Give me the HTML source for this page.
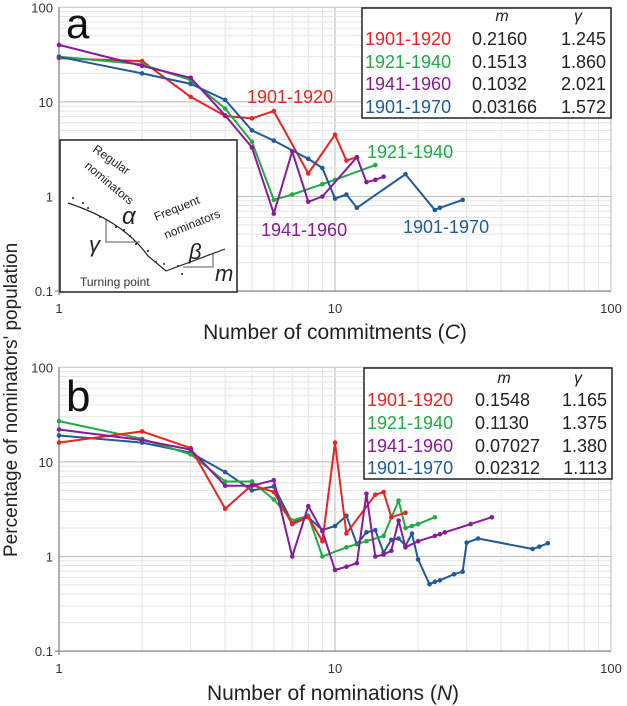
<!DOCTYPE html>
<html><head><meta charset="utf-8">
<style>
html,body{margin:0;padding:0;background:#fff;}
svg{display:block;font-family:"Liberation Sans","DejaVu Sans",sans-serif;}
</style></head>
<body>
<svg id="chart" width="627" height="706" viewBox="0 0 627 706" xmlns="http://www.w3.org/2000/svg">
  <g id="gridA"></g>
  <g id="gridB"></g>
  <g id="seriesA"></g>
  <g id="seriesB"></g>

  <text x="66" y="38" font-size="42" fill="#111">a</text>
  <text x="66" y="411" font-size="44" fill="#111">b</text>

  <text x="335" y="339" font-size="21" text-anchor="middle" fill="#222">Number of commitments (<tspan font-style="italic">C</tspan>)</text>
  <text x="333" y="700" font-size="21" text-anchor="middle" fill="#222">Number of nominations (<tspan font-style="italic">N</tspan>)</text>
  <text transform="translate(17,557) rotate(-90)" font-size="19" text-anchor="start" fill="#222">Percentage of nominators' population</text>

  <!-- series annotations panel a -->
  <text x="247" y="103" font-size="18" fill="#ee2222">1901-1920</text>
  <text x="367" y="158" font-size="18" fill="#22aa44">1921-1940</text>
  <text x="261" y="236" font-size="18" fill="#8a1a9a">1941-1960</text>
  <text x="403" y="233" font-size="18" fill="#1f5a9a">1901-1970</text>

  <!-- legend a -->
  <g>
    <rect x="362" y="8" width="249" height="110" fill="#fff" stroke="#222" stroke-width="1.5"/>
    <text x="502" y="21" font-size="16" font-style="italic" text-anchor="middle" fill="#222">m</text>
    <text x="578" y="21" font-size="16" font-style="italic" text-anchor="middle" fill="#222">γ</text>
    <g font-size="18">
      <text x="365" y="45" fill="#ee2222">1901-1920</text>
      <text x="472" y="45" fill="#222">0.2160</text><text x="606" y="45" text-anchor="end" fill="#222">1.245</text>
      <text x="365" y="68" fill="#22aa44">1921-1940</text>
      <text x="472" y="68" fill="#222">0.1513</text><text x="606" y="68" text-anchor="end" fill="#222">1.860</text>
      <text x="365" y="90" fill="#8a1a9a">1941-1960</text>
      <text x="472" y="90" fill="#222">0.1032</text><text x="606" y="90" text-anchor="end" fill="#222">2.021</text>
      <text x="365" y="113" fill="#1f5a9a">1901-1970</text>
      <text x="472" y="113" fill="#222">0.03166</text><text x="606" y="113" text-anchor="end" fill="#222">1.572</text>
    </g>
  </g>

  <!-- legend b -->
  <g>
    <rect x="364" y="368" width="248" height="111" fill="#fff" stroke="#222" stroke-width="1.5"/>
    <text x="504" y="383" font-size="16" font-style="italic" text-anchor="middle" fill="#222">m</text>
    <text x="578" y="383" font-size="16" font-style="italic" text-anchor="middle" fill="#222">γ</text>
    <g font-size="18">
      <text x="367" y="406" fill="#ee2222">1901-1920</text>
      <text x="475" y="406" fill="#222">0.1548</text><text x="607" y="406" text-anchor="end" fill="#222">1.165</text>
      <text x="367" y="429" fill="#22aa44">1921-1940</text>
      <text x="475" y="429" fill="#222">0.1130</text><text x="607" y="429" text-anchor="end" fill="#222">1.375</text>
      <text x="367" y="452" fill="#8a1a9a">1941-1960</text>
      <text x="475" y="452" fill="#222">0.07027</text><text x="607" y="452" text-anchor="end" fill="#222">1.380</text>
      <text x="367" y="474" fill="#1f5a9a">1901-1970</text>
      <text x="475" y="474" fill="#222">0.02312</text><text x="607" y="474" text-anchor="end" fill="#222">1.113</text>
    </g>
  </g>

  <!-- inset schematic -->
  <g transform="translate(58,138)">
    <rect x="2" y="2" width="177" height="152" fill="#fff" stroke="#222" stroke-width="1.5"/>
    <path d="M10,65 C40,75 70,90 90,118 L108,133 L167,111" fill="none" stroke="#222" stroke-width="1.2"/>
    <g fill="#222">
      <circle cx="15" cy="60" r="1"/><circle cx="25" cy="65" r="1"/><circle cx="30" cy="70" r="1"/>
      <circle cx="42" cy="79" r="1"/><circle cx="58" cy="89" r="1"/><circle cx="66" cy="92" r="1"/>
      <circle cx="72" cy="98" r="1"/><circle cx="78" cy="106" r="1"/><circle cx="90" cy="113" r="1"/>
      <circle cx="98" cy="124" r="1"/><circle cx="106" cy="126" r="1"/><circle cx="124" cy="136" r="1"/>
      <circle cx="120" cy="128" r="1"/>
    </g>
    <path d="M48,82 L48,104 L82,104" fill="none" stroke="#555" stroke-width="1"/>
    <path d="M155,116 L155,129 L125,129" fill="none" stroke="#555" stroke-width="1"/>
    <text transform="translate(34,13) rotate(35)" font-size="12" fill="#222">Regular</text>
    <text transform="translate(26,29) rotate(40)" font-size="12" fill="#222">nominators</text>
    <text x="64" y="86" font-size="24" font-style="italic" fill="#222">α</text>
    <text transform="translate(98,83) rotate(-22)" font-size="12" fill="#222">Frequent</text>
    <text transform="translate(108,101) rotate(-22)" font-size="12" fill="#222">nominators</text>
    <text x="31" y="114" font-size="22" font-style="italic" fill="#222">γ</text>
    <text x="131" y="121" font-size="22" font-style="italic" fill="#222">β</text>
    <text x="157" y="143" font-size="22" font-style="italic" fill="#222">m</text>
    <text x="22" y="148" font-size="12" fill="#333">Turning point</text>
  </g>
</svg>
<script>
// Panel a (commitments) data
const aRedX = [1,2,3,4,5,6,8,10,11,12];
const aRedY = [29,27,11.3,7.1,6.7,8,1.75,4.5,2.4,2.6];
const aGreenX = [1,2,3,4,5,6,7,9,10,14];
const aGreenY = [30,25,17,8.5,3.8,0.92,1.05,1.35,1.5,2.15];
const aPurpleX = [1,2,3,4,5,6,7,8,9,12,13,14,15];
const aPurpleY = [40,24,18,7.2,3.3,0.66,3.0,0.88,1.0,2.6,1.42,1.5,1.62];
const aBlueX = [1,2,3,4,5,6,8,9,10,11,12,18,23,24,29];
const aBlueY = [30,20,15.5,10.5,5.0,3.9,2.5,2.0,0.95,1.05,0.76,1.72,0.72,0.76,0.92];
// Panel b (nominations) data
const bRedX = [1,2,3,4,5,6,7,8,9,10,11,14,15,16,18];
const bRedY = [16,21,14,3.2,5.7,4.8,2.2,2.6,1.45,16,1.75,4.5,4.8,2.6,2.9];
const bGreenX = [1,2,3,4,5,6,7,8,9,11,13,15,17,18,19,20,23];
const bGreenY = [27,17.5,12,6.2,6.2,4.0,2.4,2.7,1.0,1.25,1.45,1.65,3.9,2.0,2.1,2.2,2.6];
const bPurpleX = [1,2,3,4,5,6,7,8,9,10,11,12,13,14,15,16,17,18,20,23,24,25,31,37];
const bPurpleY = [22,17,13.5,5.6,5.6,6.4,1.0,3.4,1.85,0.72,0.78,0.85,4.6,1.0,1.05,1.15,2.4,1.25,1.45,1.65,1.72,1.8,2.2,2.6];
const bBlueX = [1,2,3,4,5,6,7,8,9,10,11,12,13,14,15,16,17,18,19,20,22,23,24,27,29,30,33,52,55,59];
const bBlueY = [19,16,12.5,7.8,5.0,5.5,2.3,2.6,1.9,2.1,2.7,1.35,1.8,1.9,1.1,1.5,1.55,1.3,1.75,0.93,0.51,0.54,0.56,0.65,0.69,1.4,1.55,1.2,1.27,1.38];
const yTicks = [100,10,1,0.1];
const yTickLabels = ["100","10","1","0.1"];
const xTicks = [1,10,100];
const xTickLabels = ["1","10","100"];

const NS = "http://www.w3.org/2000/svg";
const X0 = 59, XD = 276;
function xs(v){ return X0 + Math.log10(v) * XD; }
function makeY(top){ const D = 94.6; return v => top + (2 - Math.log10(v)) * D; }
const ysA = makeY(7.3), ysB = makeY(367.3);

function el(tag, attrs, parent){
  const e = document.createElementNS(NS, tag);
  for (const k in attrs) e.setAttribute(k, attrs[k]);
  parent.appendChild(e);
  return e;
}

function drawGrid(g, ys, panel){
  for (let d = 0; d < 3; d++){
    for (let m = 1; m <= 9; m++){
      const v = Math.pow(10, d) * m;
      const x = xs(v);
      const ln = el('line', {x1:x, x2:x, y1:ys(100), y2:ys(0.1), stroke: m===1 ? '#c4c4c4' : '#e4e4e4', 'stroke-width': m===1 ? 1.2 : 1}, g);
      
      
      const yv = Math.pow(10, d - 1) * m;
      const y = ys(yv);
      const ln2 = el('line', {x1:xs(1), x2:xs(100), y1:y, y2:y, stroke: m===1 ? '#c4c4c4' : '#e4e4e4', 'stroke-width': m===1 ? 1.2 : 1}, g);
      
      
    }
  }
  el('line', {x1:xs(100), x2:xs(100), y1:ys(100), y2:ys(0.1), stroke:'#c4c4c4'}, g);
  el('line', {x1:xs(1), x2:xs(100), y1:ys(100), y2:ys(100), stroke:'#c4c4c4'}, g);
  const ax = el('line', {x1:xs(1)-4, x2:xs(100), y1:ys(0.1), y2:ys(0.1), stroke:'#999', 'stroke-width':1.5}, g);
  
  
  const ay = el('line', {x1:xs(1), x2:xs(1), y1:ys(100), y2:ys(0.1)+4, stroke:'#999', 'stroke-width':1.5}, g);
  
  
  yTicks.forEach((t, i) => {
    const tx = el('text', {x: xs(1)-6, y: ys(t)+5, 'font-size':13, 'text-anchor':'end', fill:'#333'}, g);
    tx.textContent = yTickLabels[i];
    
    
  });
  xTicks.forEach((t, i) => {
    const tx = el('text', {x: xs(t), y: ys(0.1)+22, 'font-size':13, 'text-anchor':'middle', fill:'#333'}, g);
    tx.textContent = xTickLabels[i];
    
    
  });
}

function drawSeries(g, xsArr, ysArr, ys, color, name){
  const pts = xsArr.map((x, i) => xs(x).toFixed(1) + ',' + ys(ysArr[i]).toFixed(1)).join(' ');
  const pl = el('polyline', {points: pts, fill:'none', stroke: color, 'stroke-width': 2, 'stroke-linejoin':'round'}, g);
  
  
  xsArr.forEach((x, i) => {
    const c = el('circle', {cx: xs(x), cy: ys(ysArr[i]), r: 2.3, fill: color}, g);
    
    
  });
}

drawGrid(document.getElementById('gridA'), ysA, 'a');
drawGrid(document.getElementById('gridB'), ysB, 'b');
const sA = document.getElementById('seriesA');
drawSeries(sA, aRedX, aRedY, ysA, '#ee2222', 'a-1901-1920');
drawSeries(sA, aGreenX, aGreenY, ysA, '#22aa44', 'a-1921-1940');
drawSeries(sA, aBlueX, aBlueY, ysA, '#1f5a9a', 'a-1901-1970');
drawSeries(sA, aPurpleX, aPurpleY, ysA, '#8a1a9a', 'a-1941-1960');
const sB = document.getElementById('seriesB');
drawSeries(sB, bBlueX, bBlueY, ysB, '#1f5a9a', 'b-1901-1970');
drawSeries(sB, bGreenX, bGreenY, ysB, '#22aa44', 'b-1921-1940');
drawSeries(sB, bRedX, bRedY, ysB, '#ee2222', 'b-1901-1920');
drawSeries(sB, bPurpleX, bPurpleY, ysB, '#8a1a9a', 'b-1941-1960');
</script>
</body></html>
